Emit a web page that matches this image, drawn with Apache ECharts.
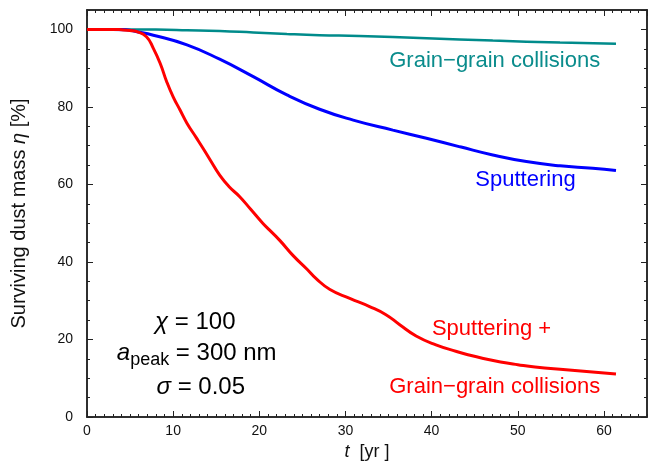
<!DOCTYPE html>
<html>
<head>
<meta charset="utf-8">
<script src="https://cdn.jsdelivr.net/npm/echarts@6/dist/echarts.min.js"></script>
<style>
html,body{margin:0;padding:0;background:#fff;}
#chart{width:648px;height:461px;}
</style>
</head>
<body>
<div id="chart"></div>
<script>
// ---- data (t in yr, surviving dust mass eta in %) ----
var collisionsT   = [0, 4, 8, 11.6, 15.4, 19.3, 23.2, 27.0, 31.6, 39.4, 47.1, 54.9, 61.4];
var collisionsEta = [100, 100, 99.95, 99.8, 99.6, 99.2, 98.8, 98.5, 98.3, 97.7, 97.1, 96.6, 96.3];

var sputteringT   = [0, 3, 4.5, 5.8, 7.7, 11.6, 15.4, 19.3, 23.2, 27.0, 30.9, 35.5, 39.4, 43.3, 47.1, 51.0, 54.9, 58.7, 61.4];
var sputteringEta = [100, 100, 99.9, 99.4, 98.5, 96.0, 92.3, 87.8, 83.1, 79.4, 76.6, 74.0, 71.9, 69.7, 67.6, 65.9, 64.8, 64.2, 63.6];

var combinedT   = [0, 3, 4, 5, 5.8, 6.9, 7.7, 8.5, 9.25, 10.0, 10.8, 11.6, 12.7, 13.5, 14.3, 15.4, 16.5, 17.7, 19.0, 20.4, 21.2, 22.4, 23.9, 25.6, 26.6, 28.2, 30.5, 32.8, 34.7, 36.3, 38.2, 40.5, 42.9, 44.0, 46.0, 48.0, 50.0, 52.0, 55.6, 61.4];
var combinedEta = [100, 100, 99.9, 99.7, 99.4, 98.1, 95.1, 91.2, 86.5, 82.6, 79.2, 75.8, 72.0, 69.2, 66.3, 62.4, 59.4, 56.9, 53.6, 50.0, 48.2, 45.5, 41.7, 38.0, 35.7, 32.9, 30.6, 28.5, 26.4, 23.8, 20.9, 18.6, 16.9, 16.2, 15.1, 14.2, 13.5, 12.9, 12.2, 11.1];

var xTicks = {min: 0, max: 65, major: 10, minor: 1};
var yTicks = {min: 0, max: 105, major: 20, minor: 5};

function pairs(xs, ys) { return xs.map(function (x, i) { return [x, ys[i]]; }); }

var FONT = '"Liberation Sans", Arial, Helvetica, sans-serif';
var AX = '#222';

function xAxisDef(pos, step, tickLen, labels, extra) {
  var a = {
    type: 'value', position: pos, min: xTicks.min, max: xTicks.max, interval: step,
    axisLine: {show: true, onZero: false, lineStyle: {color: AX, width: 1.5}},
    axisTick: {show: true, inside: true, length: tickLen, lineStyle: {color: AX, width: 1}},
    axisLabel: {show: labels, margin: 7, fontSize: 14, color: '#111', fontFamily: FONT, showMaxLabel: false},
    splitLine: {show: false}
  };
  return Object.assign(a, extra || {});
}
function yAxisDef(pos, step, tickLen, labels, extra) {
  var a = {
    type: 'value', position: pos, min: yTicks.min, max: yTicks.max, interval: step,
    axisLine: {show: true, onZero: false, lineStyle: {color: AX, width: 1.5}},
    axisTick: {show: true, inside: true, length: tickLen, lineStyle: {color: AX, width: 1}},
    axisLabel: {show: labels, margin: 14, fontSize: 14, color: '#111', fontFamily: FONT, showMaxLabel: false},
    splitLine: {show: false}
  };
  return Object.assign(a, extra || {});
}

var chart = echarts.init(document.getElementById('chart'), null, {renderer: 'canvas'});

var option = {
  backgroundColor: '#fff',
  animation: false,
  grid: {left: 87, right: 1, top: 10, bottom: 44, containLabel: false, outerBoundsMode: 'none'},
  xAxis: [
    xAxisDef('bottom', xTicks.major, 6, true, {
      name: '{i|t}  [yr ]', nameLocation: 'middle', nameGap: 26,
      nameTextStyle: {color: '#111', fontFamily: FONT, fontSize: 18,
        rich: {i: {fontStyle: 'italic', fontSize: 18, fontFamily: FONT, color: '#111'}}}
    }),
    xAxisDef('bottom', xTicks.minor, 3, false),
    xAxisDef('top', xTicks.major, 6, false),
    xAxisDef('top', xTicks.minor, 3, false)
  ],
  yAxis: [
    yAxisDef('left', yTicks.major, 6, true, {
      name: '{n|Surviving dust mass }{i|η}{n| [%]}', nameLocation: 'middle', nameGap: 58, nameRotate: 90,
      nameTextStyle: {color: '#111', fontFamily: FONT, fontSize: 20,
        rich: {n: {fontSize: 20, fontFamily: FONT, color: '#111'},
               i: {fontSize: 20, fontFamily: FONT, fontStyle: 'italic', color: '#111'}}}
    }),
    yAxisDef('left', yTicks.minor, 3, false),
    yAxisDef('right', yTicks.major, 6, false),
    yAxisDef('right', yTicks.minor, 3, false)
  ],
  series: [
    {name: 'Grain-grain collisions', type: 'line', data: pairs(collisionsT, collisionsEta),
     showSymbol: false, smooth: 0.5, lineStyle: {color: '#008b8b', width: 2.5}, z: 3},
    {name: 'Sputtering', type: 'line', data: pairs(sputteringT, sputteringEta),
     showSymbol: false, smooth: 0.5, lineStyle: {color: '#0000ff', width: 3}, z: 4},
    {name: 'Sputtering + Grain-grain collisions', type: 'line', data: pairs(combinedT, combinedEta),
     showSymbol: false, smooth: 0.5, lineStyle: {color: '#ff0000', width: 3}, z: 5}
  ],
  graphic: [
    {type: 'text', x: 494.7, y: 61, z: 10, style: {text: 'Grain\u2212grain collisions', fill: '#0a8c8c', font: '22px ' + FONT, align: 'center', verticalAlign: 'middle'}},
    {type: 'text', x: 525.5, y: 180, z: 10, style: {text: 'Sputtering', fill: '#0000ff', font: '22px ' + FONT, align: 'center', verticalAlign: 'middle'}},
    {type: 'text', x: 491.5, y: 328.5, z: 10, style: {text: 'Sputtering +', fill: '#ff0000', font: '22px ' + FONT, align: 'center', verticalAlign: 'middle'}},
    {type: 'text', x: 494.7, y: 386.5, z: 10, style: {text: 'Grain\u2212grain collisions', fill: '#ff0000', font: '22px ' + FONT, align: 'center', verticalAlign: 'middle'}},
    {type: 'text', x: 195.3, y: 322.5, z: 10, style: {
      text: '{i|\u03c7}{n| = 100}', align: 'center', verticalAlign: 'middle',
      rich: {i: {fontSize: 24, fontStyle: 'italic', fontFamily: FONT, fill: '#000', lineHeight: 30},
             n: {fontSize: 24, fontFamily: FONT, fill: '#000', lineHeight: 30}}}},
    {type: 'text', x: 196.7, y: 353, z: 10, style: {
      text: '{i|a}{s|peak}{n| = 300 nm}', align: 'center', verticalAlign: 'middle',
      rich: {i: {fontSize: 24, fontStyle: 'italic', fontFamily: FONT, fill: '#000', lineHeight: 32, verticalAlign: 'middle'},
             s: {fontSize: 18, fontFamily: FONT, fill: '#000', lineHeight: 32, verticalAlign: 'bottom'},
             n: {fontSize: 24, fontFamily: FONT, fill: '#000', lineHeight: 32, verticalAlign: 'middle'}}}},
    {type: 'text', x: 200.8, y: 387.5, z: 10, style: {
      text: '{i|\u03c3}{n| = 0.05}', align: 'center', verticalAlign: 'middle',
      rich: {i: {fontSize: 24, fontStyle: 'italic', fontFamily: FONT, fill: '#000', lineHeight: 30},
             n: {fontSize: 24, fontFamily: FONT, fill: '#000', lineHeight: 30}}}}
  ]
};
chart.setOption(option);
</script>
</body>
</html>
